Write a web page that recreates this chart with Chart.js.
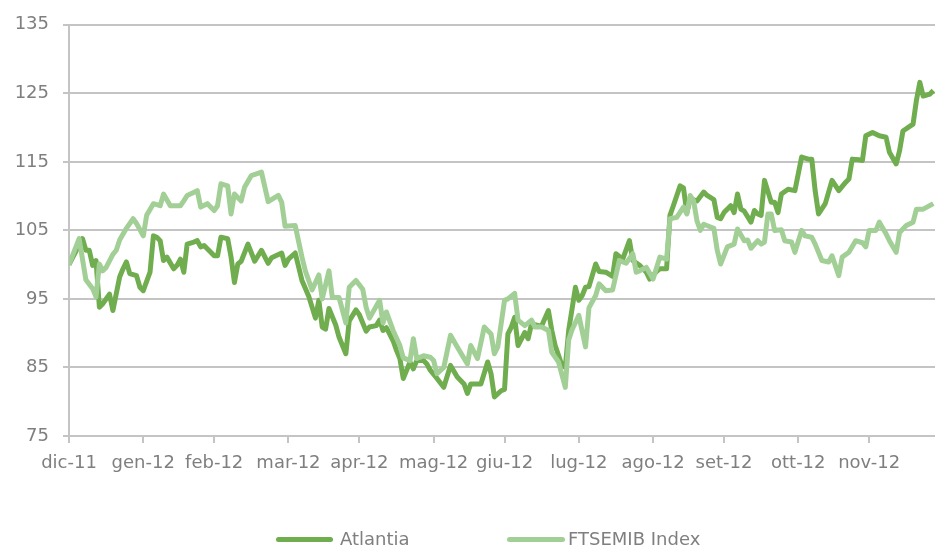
<!DOCTYPE html>
<html>
<head>
<meta charset="utf-8">
<script src="https://cdn.jsdelivr.net/npm/chart.js@4.4.1/dist/chart.umd.min.js"></script>
<style>
  html, body { margin: 0; padding: 0; background: #fff; }
  #wrap { position: relative; width: 935px; height: 549px; }
  #chart { display: block; }
  .legend-line { position: absolute; height: 5px; border-radius: 3px; top: 537px; }
  .legend-text { position: absolute; top: 528px; font: 18px "DejaVu Sans", sans-serif; color: #7f7f7f; line-height: 22px; }
</style>
</head>
<body>
<div id="wrap">
  <canvas id="chart" width="935" height="549"></canvas>
  <span class="legend-line" style="left:276px;width:57px;background:#70ad4f"></span>
  <span class="legend-text" style="left:340px">Atlantia</span>
  <span class="legend-line" style="left:507px;width:58px;background:#a2cf95"></span>
  <span class="legend-text" style="left:568px">FTSEMIB Index</span>
</div>
<script>
// trading-day index of each month start, and its label
var monthStarts = [0, 22, 43, 65, 86, 108, 129, 151, 173, 194, 216, 237];
var monthLabels = ["dic-11", "gen-12", "feb-12", "mar-12", "apr-12", "mag-12",
                   "giu-12", "lug-12", "ago-12", "set-12", "ott-12", "nov-12"];

// Atlantia, rebased to 100
var atlDays = [0, 4, 5, 6, 7, 8, 9, 10, 12, 13, 15, 16, 17, 18, 20, 21, 22, 24, 25, 26,
  27, 28, 29, 31, 32, 33, 34, 35, 37, 38, 39, 40, 42, 43, 44, 45, 47, 48, 49, 50,
  51, 53, 55, 57, 59, 60, 63, 64, 65, 67, 69, 71, 73, 74, 75, 76, 77, 79, 80, 82,
  83, 85, 86, 88, 89, 91, 92, 93, 94, 96, 97, 98, 99, 100, 101, 102, 103, 105, 106, 107,
  109, 111, 113, 115, 117, 118, 119, 122, 124, 125, 126, 128, 129, 130, 131, 132, 133, 135, 136, 137,
  139, 140, 142, 143, 144, 146, 147, 148, 150, 151, 152, 153, 154, 156, 157, 159, 161, 162, 164, 166,
  167, 169, 171, 172, 174, 175, 177, 178, 179, 181, 182, 183, 184, 186, 188, 189, 191, 192, 193, 194,
  196, 197, 198, 199, 200, 202, 203, 204, 205, 206, 208, 209, 210, 211, 213, 215, 217, 219, 220, 221,
  222, 224, 226, 228, 230, 231, 232, 234, 235, 236, 238, 240, 242, 243, 245, 246, 247, 250, 251, 252,
  253, 255, 256];
var atlantia = [100.0, 103.8, 102.1, 102.1, 99.9, 100.6, 93.8, 94.3, 95.7, 93.3, 98.2, 99.4, 100.4, 98.7, 98.4, 96.7, 96.2, 98.9, 104.2, 104.0,
  103.5, 100.6, 101.1, 99.4, 99.9, 100.8, 98.9, 103.0, 103.3, 103.5, 102.6, 102.8, 101.8, 101.3, 101.3, 104.0, 103.8, 101.1, 97.4, 100.1,
  100.5, 103.0, 100.5, 102.1, 100.2, 101.0, 101.7, 99.9, 100.8, 101.7, 97.7, 95.4, 92.2, 94.8, 90.9, 90.6, 93.6, 91.2, 89.4, 87.0,
  91.8, 93.4, 92.7, 90.3, 90.9, 91.1, 91.9, 90.4, 90.8, 88.9, 87.5, 86.3, 83.4, 84.6, 85.8, 84.8, 86.0, 86.0, 85.5, 84.6,
  83.4, 82.1, 85.3, 83.6, 82.6, 81.2, 82.6, 82.6, 85.8, 84.1, 80.7, 81.6, 81.8, 89.9, 90.9, 92.3, 88.2, 90.1, 89.2, 91.4,
  91.1, 91.1, 93.3, 90.4, 88.2, 85.3, 85.0, 90.4, 96.7, 94.8, 95.5, 96.7, 96.8, 100.1, 99.0, 98.9, 98.3, 101.6, 100.8, 103.5,
  100.6, 99.9, 98.9, 97.9, 99.0, 99.4, 99.4, 107.2, 108.6, 111.5, 111.2, 107.6, 109.6, 109.3, 110.6, 110.1, 109.5, 106.9, 106.7, 107.6,
  108.6, 107.6, 110.3, 108.1, 107.8, 106.2, 107.9, 107.4, 107.2, 112.3, 109.1, 109.1, 107.6, 110.3, 111.0, 110.8, 115.7, 115.4, 115.4, 110.8,
  107.4, 108.9, 112.3, 110.8, 112.0, 112.5, 115.4, 115.3, 115.2, 118.8, 119.3, 118.8, 118.6, 116.4, 114.7, 116.6, 119.5, 120.5, 124.0, 126.6,
  124.6, 124.9, 125.4];

// FTSE MIB index, rebased to 100
var ftseDays = [0, 3, 5, 7, 8, 9, 10, 11, 13, 14, 15, 17, 19, 20, 22, 23, 25, 27, 28, 30,
  33, 34, 35, 38, 39, 41, 43, 44, 45, 47, 48, 49, 51, 52, 54, 57, 59, 62, 63, 64,
  67, 69, 70, 72, 74, 75, 77, 78, 80, 82, 83, 85, 87, 88, 89, 92, 93, 94, 96, 98,
  99, 101, 102, 103, 105, 107, 108, 109, 111, 113, 115, 118, 119, 121, 123, 125, 126, 127, 129, 130,
  132, 133, 135, 137, 138, 140, 142, 143, 145, 147, 148, 149, 151, 153, 154, 156, 157, 159, 161, 163,
  165, 167, 168, 169, 171, 173, 175, 177, 178, 180, 182, 183, 184, 185, 186, 187, 188, 190, 191, 192,
  193, 195, 197, 198, 200, 201, 202, 204, 205, 206, 207, 208, 209, 211, 212, 214, 215, 217, 218, 220,
  221, 223, 225, 226, 228, 229, 231, 233, 235, 236, 237, 239, 240, 242, 243, 245, 246, 248, 250, 251,
  253, 256];
var ftsemib = [100.0, 103.8, 97.8, 96.5, 95.3, 100.1, 99.1, 99.6, 101.5, 102.1, 103.6, 105.3, 106.7, 106.0, 104.2, 107.2, 108.9, 108.6, 110.3, 108.6,
  108.6, 109.3, 110.1, 110.8, 108.4, 108.9, 107.9, 108.6, 111.8, 111.5, 107.4, 110.3, 109.3, 111.3, 113.0, 113.5, 109.2, 110.1, 109.1, 105.6,
  105.7, 101.1, 99.1, 96.3, 98.5, 95.0, 99.1, 95.2, 95.2, 91.5, 96.7, 97.7, 96.4, 93.8, 92.2, 94.8, 91.5, 93.1, 90.4, 88.2,
  86.4, 86.0, 89.2, 86.3, 86.7, 86.5, 86.0, 84.1, 85.0, 89.7, 88.0, 85.5, 88.2, 86.3, 90.9, 89.9, 87.0, 88.0, 94.8, 95.0,
  95.8, 91.9, 91.1, 91.9, 90.9, 90.9, 90.4, 87.2, 85.8, 82.1, 89.0, 90.5, 92.6, 88.0, 93.7, 95.5, 97.2, 96.2, 96.3, 100.6,
  100.2, 101.6, 98.9, 99.1, 99.6, 97.9, 101.1, 100.8, 106.7, 106.9, 108.4, 107.4, 110.1, 109.3, 106.4, 105.0, 105.9, 105.5, 105.3, 102.1,
  100.1, 102.6, 103.0, 105.2, 103.5, 103.6, 102.4, 103.5, 103.0, 103.3, 107.4, 107.4, 105.0, 105.1, 103.5, 103.3, 101.8, 105.0, 104.2, 104.0,
  103.0, 100.6, 100.4, 101.3, 98.4, 101.1, 101.8, 103.5, 103.2, 102.6, 105.0, 105.0, 106.2, 104.5, 103.5, 101.8, 104.7, 105.7, 106.2, 108.1,
  108.1, 108.9];

var yTicks = { min: 75, max: 135, step: 10 };

function toPoints(days, values) {
  return days.map(function (d, i) { return { x: d, y: values[i] }; });
}

var gridColor = "#c4c4c4";
var textColor = "#7f7f7f";
var tickFont = { family: "'DejaVu Sans', sans-serif", size: 18 };

document.addEventListener("DOMContentLoaded", function () {
  var ctx = document.getElementById("chart").getContext("2d");
  new Chart(ctx, {
    type: "line",
    data: {
      datasets: [
        {
          label: "Atlantia",
          data: toPoints(atlDays, atlantia),
          borderColor: "#70ad4f",
          borderWidth: 5,
          pointRadius: 0,
          tension: 0,
          borderJoinStyle: "round",
          order: 1,
        },
        {
          label: "FTSEMIB Index",
          data: toPoints(ftseDays, ftsemib),
          borderColor: "#a2cf95",
          borderWidth: 5,
          pointRadius: 0,
          tension: 0,
          borderJoinStyle: "round",
          order: 0,
        },
      ],
    },
    options: {
      responsive: false,
      animation: false,
      layout: { padding: { top: 24, right: 0, bottom: 73, left: 0 } },
      plugins: {
        legend: { display: false },
        tooltip: { enabled: false },
      },
      scales: {
        x: {
          type: "linear",
          min: 0,
          max: 256.5,
          afterBuildTicks: function (axis) {
            axis.ticks = monthStarts.map(function (v) { return { value: v }; });
          },
          afterFit: function (scale) { scale.height = 40; },
          ticks: {
            autoSkip: false,
            maxRotation: 0,
            padding: 10,
            color: textColor,
            font: tickFont,
            callback: function (v) { return monthLabels[monthStarts.indexOf(v)]; },
          },
          grid: { drawOnChartArea: false, drawTicks: true, tickLength: 7, color: gridColor, lineWidth: 2 },
          border: { color: gridColor, width: 2 },
        },
        y: {
          min: yTicks.min,
          max: yTicks.max,
          afterFit: function (scale) { scale.width = 69; },
          ticks: { stepSize: yTicks.step, padding: 14, color: textColor, font: tickFont },
          grid: { color: gridColor, lineWidth: 2, tickLength: 6 },
          border: { color: gridColor, width: 2 },
        },
      },
    },
  });
});
</script>
</body>
</html>
